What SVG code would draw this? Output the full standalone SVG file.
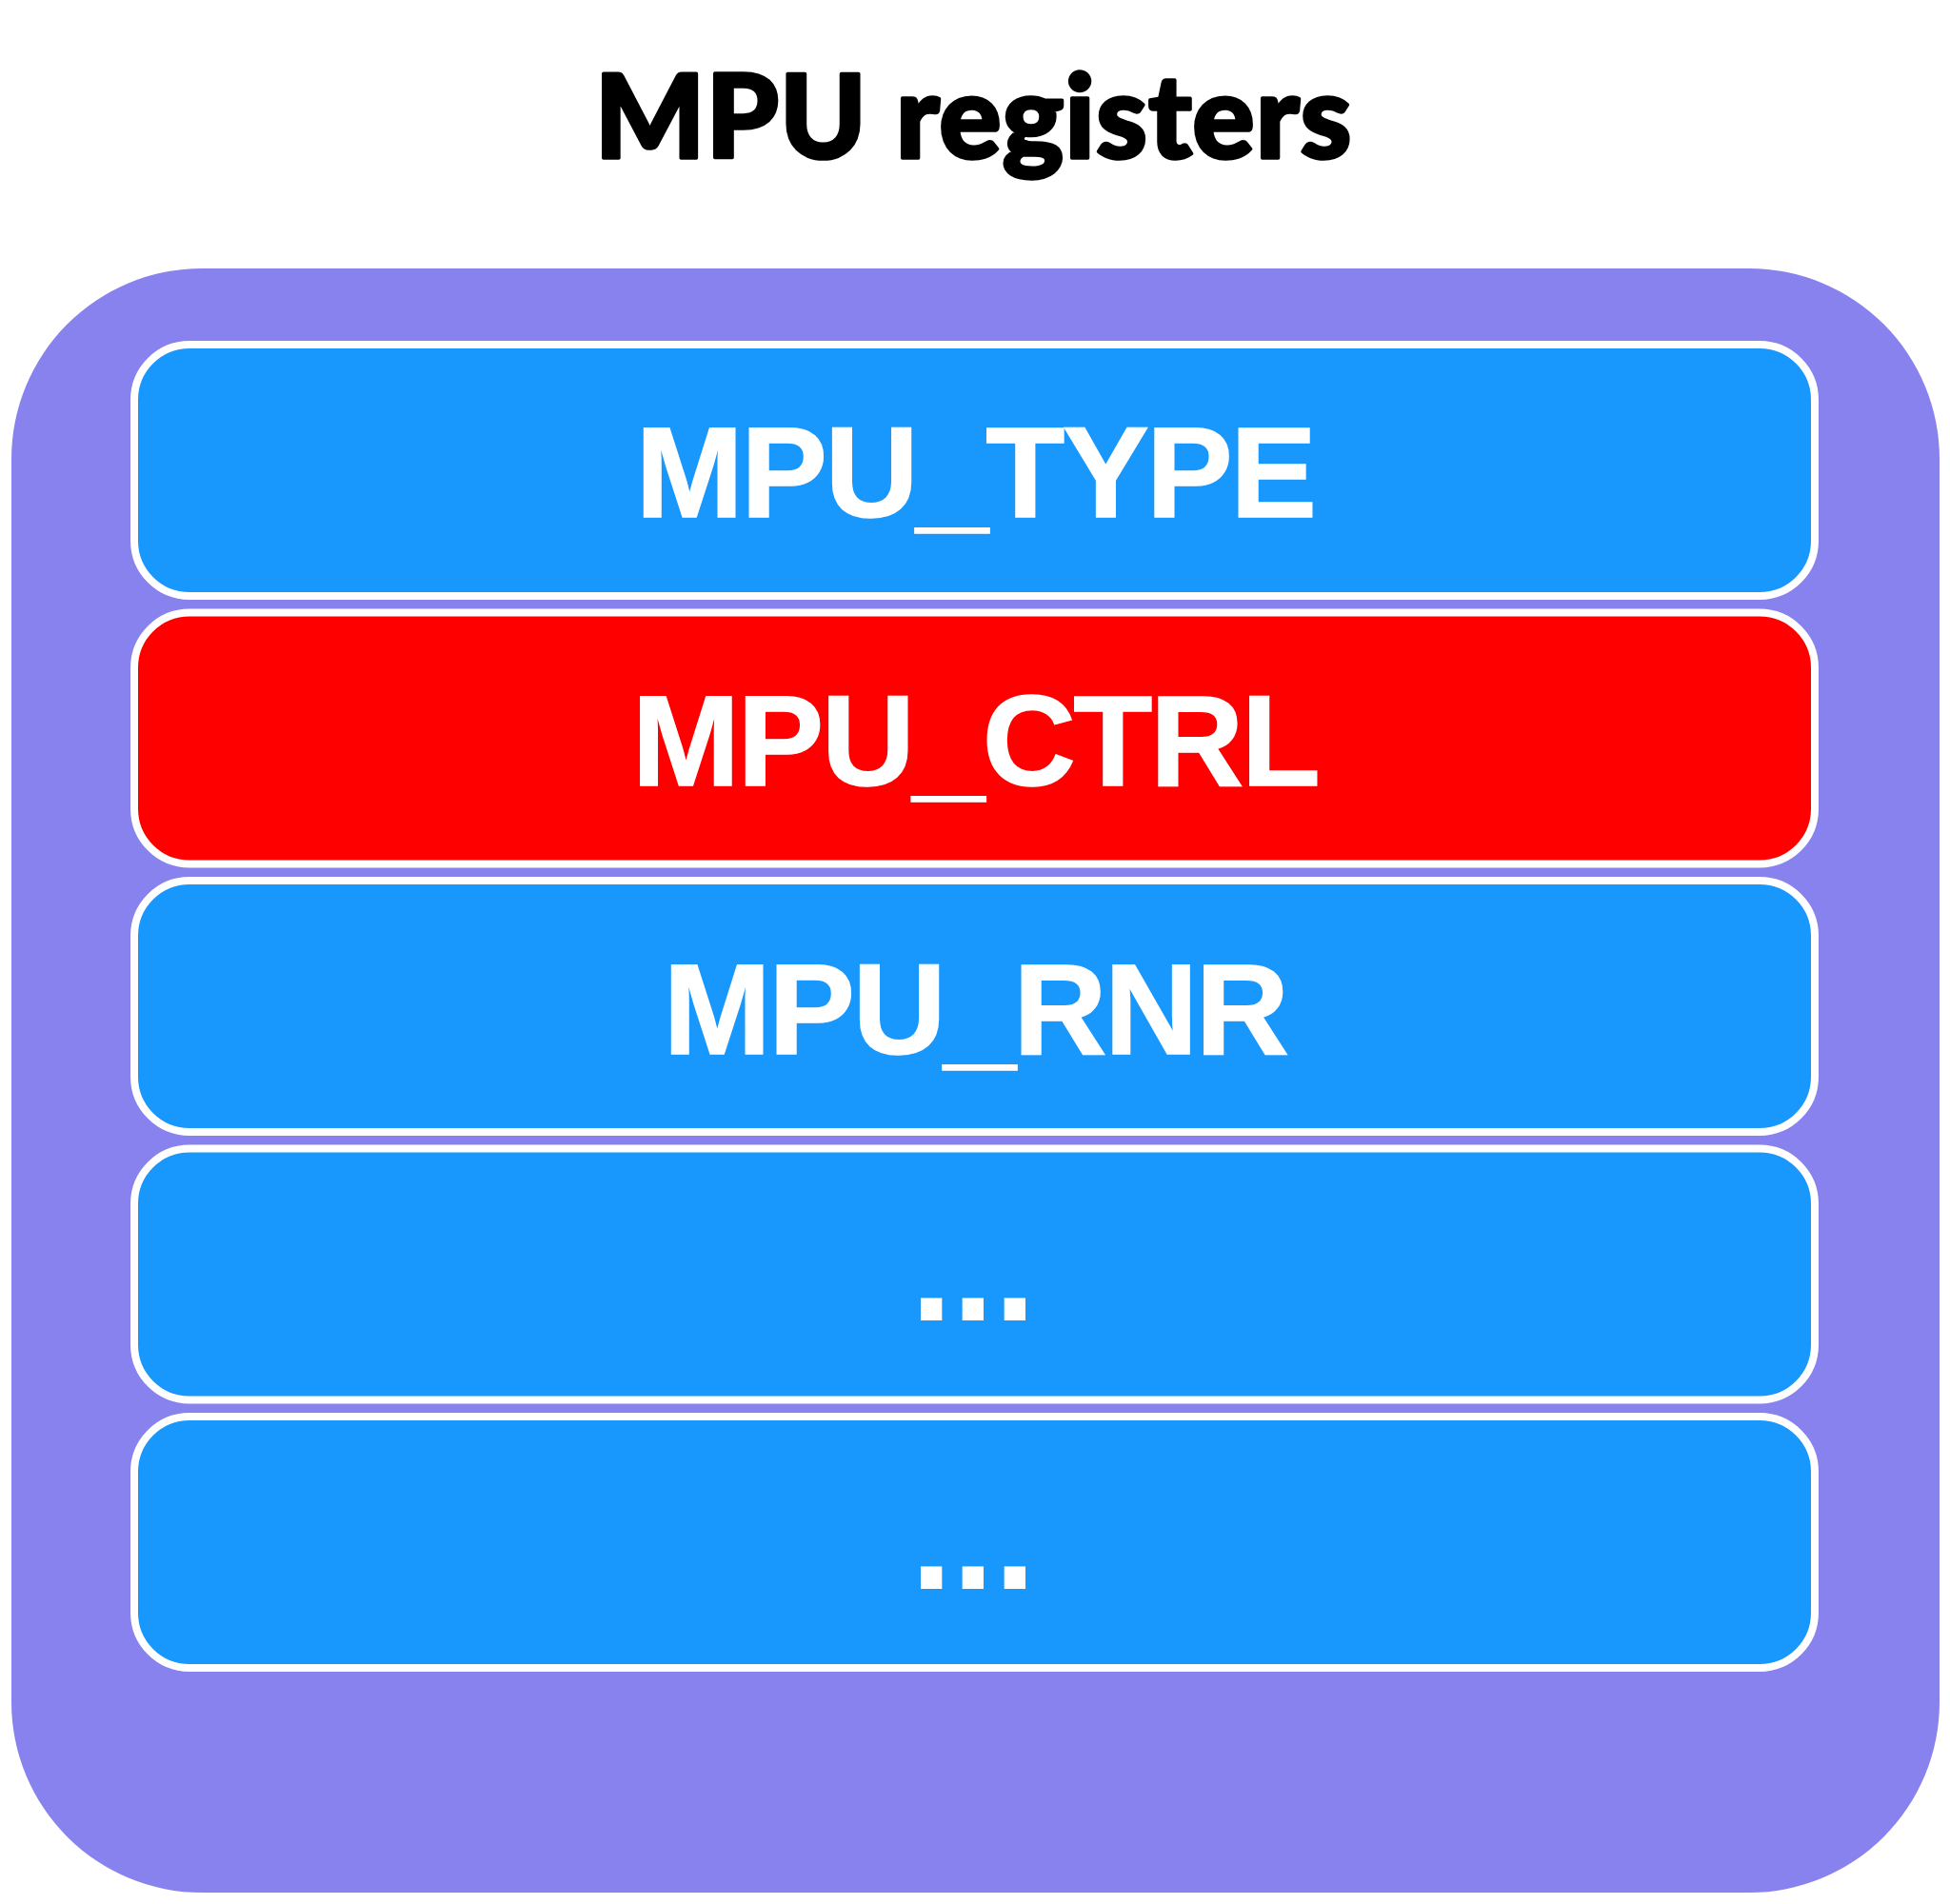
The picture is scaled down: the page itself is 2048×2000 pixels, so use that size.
<svg xmlns="http://www.w3.org/2000/svg" width="2048" height="2000" viewBox="0 0 2048 2000">
<style>
.reg{stroke:#ffffff;stroke-width:8}
.blue{fill:#1897fc}
.red{fill:#ff0000}
.lbl{font-family:"Liberation Sans",Arial,Helvetica,sans-serif;font-weight:bold;font-size:136px;fill:#ffffff;stroke:#ffffff;stroke-width:1.5;text-anchor:middle;letter-spacing:-2.5px}
.dots{font-family:"Liberation Sans",Arial,Helvetica,sans-serif;font-weight:bold;font-size:158px;fill:#ffffff;text-anchor:middle}
.title{font-family:Lato,"Noto Sans",sans-serif;font-weight:900;font-size:122px;fill:#000000;stroke:#000000;stroke-width:3.5;stroke-linejoin:round;text-anchor:middle}
</style>
<rect width="2048" height="2000" fill="#ffffff"/>
<g id="title">
<text class="title" x="1022" y="166" textLength="795" lengthAdjust="spacing">MPU registers</text>
</g>
<g id="container">
<rect x="12" y="282" width="2025" height="1706" rx="200" ry="200" fill="#8882ee"/>
</g>
<g id="mpu_type">
<rect class="reg blue" x="141" y="362" width="1765" height="264" rx="58" ry="58"/>
<text class="lbl" x="1024" y="543">MPU_TYPE</text>
</g>
<g id="mpu_ctrl">
<rect class="reg red" x="141" y="643.5" width="1765" height="264" rx="58" ry="58"/>
<text class="lbl" x="1024" y="825">MPU_CTRL</text>
</g>
<g id="mpu_rnr">
<rect class="reg blue" x="141" y="925" width="1765" height="264" rx="58" ry="58"/>
<text class="lbl" x="1024" y="1107">MPU_RNR</text>
</g>
<g id="reg4">
<rect class="reg blue" x="141" y="1206.5" width="1765" height="264" rx="58" ry="58"/>
<text class="dots" x="1022" y="1387">...</text>
</g>
<g id="reg5">
<rect class="reg blue" x="141" y="1488" width="1765" height="264" rx="58" ry="58"/>
<text class="dots" x="1022" y="1669">...</text>
</g>
<g id="connectors"></g>
</svg>
